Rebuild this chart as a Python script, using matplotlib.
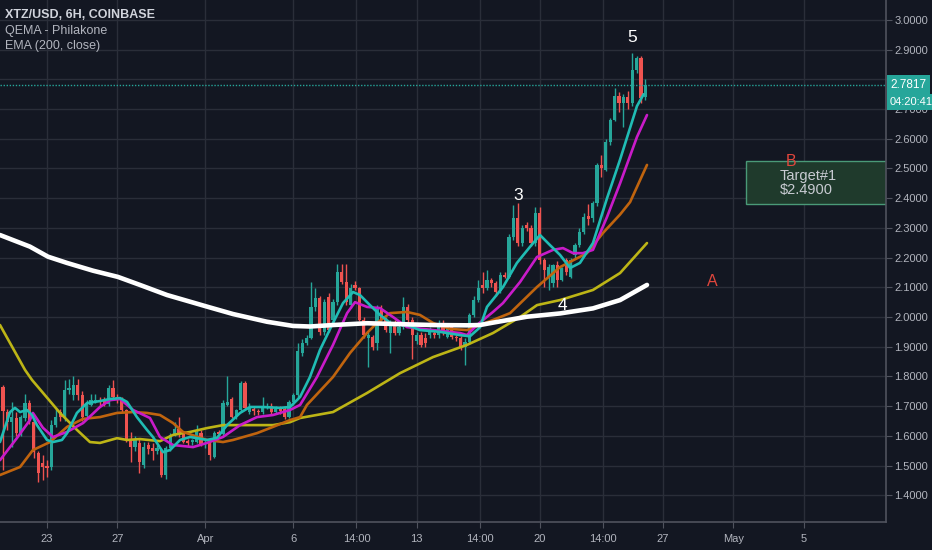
import matplotlib
matplotlib.use("Agg")
import matplotlib.pyplot as plt
import numpy as np
from matplotlib.patches import Rectangle

plt.rcParams['font.family'] = ['Liberation Sans', 'DejaVu Sans']

# ---------------- data ----------------
START_DAY = -2.5          # day offset of first 6H candle (0 = Mar 23)
CANDLE_STEP = 0.25        # 6 hours

opens = [1.764, 1.680, 1.646, 1.660, 1.609, 1.660, 1.710, 1.646, 1.542, 1.508,
         1.500, 1.495, 1.636, 1.680, 1.663, 1.754, 1.737, 1.771, 1.737, 1.668,
         1.703, 1.715, 1.722, 1.722, 1.708, 1.761, 1.731, 1.720, 1.687, 1.590,
         1.562, 1.576, 1.501, 1.570, 1.560, 1.550, 1.552, 1.468, 1.559, 1.603,
         1.623, 1.609, 1.582, 1.578, 1.580, 1.610, 1.572, 1.575, 1.530, 1.612,
         1.605, 1.705, 1.724, 1.663, 1.687, 1.778, 1.680, 1.690, 1.685, 1.680,
         1.693, 1.700, 1.680, 1.690, 1.690, 1.663, 1.713, 1.737, 1.879, 1.912,
         1.930, 2.035, 2.063, 1.951, 2.068, 1.990, 2.050, 2.150, 2.119, 2.040,
         2.108, 2.097, 1.990, 1.930, 1.934, 1.911, 2.024, 1.996, 1.945, 1.979,
         1.945, 1.967, 2.035, 1.990, 1.919, 1.939, 1.930, 1.939, 1.945, 1.939,
         1.979, 1.934, 1.967, 1.934, 1.928, 1.900, 1.917, 2.007, 2.057, 2.108,
         2.097, 2.125, 2.114, 2.088, 2.141, 2.135, 2.269, 2.333, 2.249, 2.310,
         2.300, 2.249, 2.350, 2.192, 2.135, 2.114, 2.175, 2.125, 2.192, 2.135,
         2.209, 2.243, 2.286, 2.340, 2.333, 2.384, 2.512, 2.495, 2.590, 2.663,
         2.744, 2.720, 2.740, 2.720, 2.830, 2.871, 2.740]
highs = [1.771, 1.690, 1.713, 1.680, 1.670, 1.740, 1.720, 1.660, 1.550, 1.535,
         1.520, 1.653, 1.690, 1.690, 1.788, 1.790, 1.800, 1.790, 1.750, 1.720,
         1.740, 1.740, 1.730, 1.730, 1.770, 1.788, 1.740, 1.730, 1.690, 1.612,
         1.600, 1.590, 1.580, 1.580, 1.575, 1.570, 1.555, 1.565, 1.610, 1.646,
         1.663, 1.615, 1.590, 1.590, 1.636, 1.620, 1.590, 1.590, 1.615, 1.620,
         1.720, 1.800, 1.730, 1.690, 1.785, 1.785, 1.710, 1.700, 1.690, 1.730,
         1.710, 1.710, 1.700, 1.700, 1.700, 1.720, 1.745, 1.912, 1.925, 1.940,
         2.119, 2.097, 2.070, 2.060, 2.080, 2.060, 2.180, 2.180, 2.180, 2.110,
         2.120, 2.100, 2.000, 1.950, 1.940, 2.040, 2.040, 2.000, 1.990, 1.990,
         1.975, 2.068, 2.045, 2.000, 1.950, 1.950, 1.945, 1.965, 1.955, 1.990,
         1.990, 1.975, 1.975, 1.940, 1.935, 1.930, 2.015, 2.070, 2.125, 2.150,
         2.158, 2.130, 2.120, 2.150, 2.150, 2.280, 2.377, 2.384, 2.310, 2.320,
         2.310, 2.370, 2.370, 2.200, 2.180, 2.180, 2.190, 2.170, 2.200, 2.200,
         2.250, 2.300, 2.350, 2.380, 2.390, 2.520, 2.545, 2.600, 2.670, 2.770,
         2.757, 2.750, 2.760, 2.888, 2.880, 2.880, 2.800]
lows = [1.485, 1.620, 1.562, 1.600, 1.600, 1.650, 1.640, 1.525, 1.444, 1.451,
        1.460, 1.485, 1.630, 1.650, 1.650, 1.740, 1.720, 1.720, 1.650, 1.660,
        1.700, 1.710, 1.700, 1.700, 1.700, 1.720, 1.710, 1.680, 1.580, 1.511,
        1.550, 1.475, 1.490, 1.540, 1.520, 1.540, 1.461, 1.455, 1.550, 1.600,
        1.596, 1.575, 1.565, 1.570, 1.575, 1.565, 1.560, 1.518, 1.525, 1.600,
        1.600, 1.700, 1.660, 1.655, 1.680, 1.690, 1.675, 1.670, 1.670, 1.675,
        1.690, 1.675, 1.675, 1.675, 1.655, 1.660, 1.705, 1.730, 1.870, 1.905,
        1.925, 2.020, 1.940, 1.940, 1.950, 1.980, 2.040, 2.110, 2.040, 2.030,
        2.090, 1.985, 1.930, 1.830, 1.890, 1.890, 1.985, 1.950, 1.880, 1.940,
        1.940, 1.960, 1.980, 1.860, 1.910, 1.900, 1.900, 1.930, 1.930, 1.930,
        1.940, 1.930, 1.925, 1.920, 1.890, 1.838, 1.910, 2.000, 2.050, 2.080,
        2.090, 2.100, 2.070, 2.080, 2.130, 2.130, 2.260, 2.240, 2.240, 2.290,
        2.240, 2.240, 2.180, 2.100, 2.090, 2.100, 2.100, 2.120, 2.140, 2.130,
        2.200, 2.235, 2.280, 2.310, 2.320, 2.375, 2.470, 2.490, 2.580, 2.660,
        2.690, 2.640, 2.700, 2.710, 2.820, 2.720, 2.730]
closes = [1.683, 1.646, 1.663, 1.609, 1.663, 1.710, 1.653, 1.545, 1.475, 1.495,
          1.492, 1.636, 1.663, 1.663, 1.754, 1.760, 1.771, 1.737, 1.663, 1.703,
          1.720, 1.722, 1.718, 1.708, 1.761, 1.731, 1.720, 1.687, 1.586, 1.562,
          1.586, 1.511, 1.562, 1.555, 1.548, 1.560, 1.468, 1.559, 1.603, 1.623,
          1.609, 1.579, 1.576, 1.585, 1.613, 1.569, 1.576, 1.535, 1.609, 1.605,
          1.710, 1.715, 1.663, 1.687, 1.778, 1.693, 1.697, 1.683, 1.680, 1.693,
          1.700, 1.680, 1.690, 1.685, 1.663, 1.713, 1.737, 1.885, 1.912, 1.930,
          2.035, 2.063, 1.951, 2.050, 1.956, 2.050, 2.150, 2.119, 2.050, 2.097,
          2.097, 1.990, 1.940, 1.940, 1.900, 2.029, 1.990, 1.956, 1.979, 1.945,
          1.967, 2.035, 1.990, 1.939, 1.939, 1.906, 1.911, 1.956, 1.939, 1.979,
          1.945, 1.967, 1.934, 1.928, 1.900, 1.917, 2.007, 2.057, 2.097, 2.097,
          2.125, 2.114, 2.084, 2.141, 2.135, 2.269, 2.333, 2.249, 2.300, 2.300,
          2.249, 2.350, 2.192, 2.158, 2.168, 2.175, 2.125, 2.165, 2.150, 2.192,
          2.243, 2.286, 2.337, 2.330, 2.384, 2.512, 2.500, 2.590, 2.663, 2.744,
          2.720, 2.740, 2.720, 2.830, 2.871, 2.737, 2.7817]

# Moving-average lines (day, price)
ema200_days = [-2.67, -0.97, 0.06, 1.14, 2.61, 4.03, 5.28, 6.82, 9.09, 10.57, 12.5,
               13.98, 14.94, 16.25, 18.18, 20.06, 21.93, 23.86, 24.60, 25.34, 27.27,
               29.15, 31.02, 32.56, 34.09]
ema200_vals = [2.276, 2.237, 2.203, 2.182, 2.156, 2.135, 2.108, 2.074, 2.035, 2.010, 1.984,
               1.970, 1.968, 1.973, 1.979, 1.976, 1.973, 1.972, 1.973, 1.981, 2.001,
               2.012, 2.029, 2.057, 2.108]

yellow_days = [-2.67, -1.25, -0.85, 0.74, 1.70, 2.44, 3.01, 3.98, 4.55, 5.28, 6.42, 7.16,
               8.13, 9.09, 10.0, 10.97, 12.84, 13.81, 14.38, 16.25, 18.18, 20.06, 21.93,
               23.86, 24.60, 25.34, 26.88, 27.84, 29.15, 31.02, 32.56, 34.09]
yellow_vals = [1.973, 1.822, 1.788, 1.677, 1.620, 1.579, 1.576, 1.592, 1.586, 1.589, 1.582,
               1.603, 1.613, 1.626, 1.636, 1.636, 1.636, 1.646, 1.660, 1.680, 1.744, 1.811,
               1.865, 1.906, 1.926, 1.946, 2.000, 2.040, 2.057, 2.091, 2.148, 2.249]

orange_days = [-2.67, -1.53, -0.80, 0.17, 1.14, 2.05, 3.01, 3.98, 4.89, 5.68, 6.42, 7.16,
               7.73, 9.09, 10.0, 10.57, 11.93, 12.84, 13.81, 14.38, 14.77, 16.25, 17.22,
               18.18, 18.75, 19.49, 20.45, 21.19, 21.93, 22.90, 23.86, 24.60, 25.34,
               26.31, 27.84, 29.15, 30.68, 31.59, 32.56, 33.13, 34.09]
orange_vals = [1.468, 1.495, 1.552, 1.579, 1.630, 1.657, 1.663, 1.677, 1.680, 1.677, 1.670,
               1.643, 1.613, 1.586, 1.579, 1.586, 1.609, 1.630, 1.653, 1.663, 1.704, 1.798,
               1.879, 1.946, 1.980, 2.013, 2.017, 2.007, 1.980, 1.960, 1.956, 1.973, 1.990,
               2.013, 2.101, 2.168, 2.215, 2.283, 2.345, 2.387, 2.512]

magenta_days = [-2.67, -1.70, -0.97, -0.80, -0.23, 0.34, 1.14, 2.05, 3.01, 3.58, 4.15,
                4.89, 5.85, 6.42, 7.16, 8.30, 9.09, 10.0, 10.97, 11.93, 12.84, 13.81,
                14.38, 15.34, 16.25, 17.05, 17.5, 18.18, 18.92, 19.66, 20.45, 21.93,
                23.47, 23.86, 24.43, 25.34, 25.91, 26.88, 27.84, 28.75, 29.32, 29.89,
                30.45, 31.02, 31.82, 32.56, 33.52, 34.09]
magenta_vals = [1.518, 1.593, 1.653, 1.677, 1.627, 1.596, 1.613, 1.643, 1.697, 1.720, 1.724,
                1.687, 1.660, 1.596, 1.569, 1.562, 1.576, 1.596, 1.636, 1.663, 1.670, 1.687,
                1.704, 1.798, 1.906, 2.013, 2.050, 2.034, 2.030, 2.000, 1.966, 1.956,
                1.946, 1.939, 1.973, 2.017, 2.047, 2.118, 2.202, 2.226, 2.232, 2.215,
                2.215, 2.226, 2.337, 2.450, 2.606, 2.680]

cyan_days = [-2.67, -2.10, -1.82, -1.53, -1.14, -0.85, -0.57, 0.0, 0.34, 0.85, 1.14, 1.70,
             2.27, 3.01, 3.58, 4.15, 4.55, 5.11, 5.68, 6.02, 6.59, 6.99, 7.56, 8.13, 9.09,
             9.66, 10.23, 10.97, 11.53, 12.27, 13.24, 13.81, 14.20, 14.38, 14.94, 15.51,
             16.25, 16.82, 17.39, 17.78, 18.35, 18.92, 19.66, 20.45, 21.19, 22.33, 23.47,
             24.03, 24.60, 25.0, 25.91, 26.70, 27.44, 28.01, 28.58, 29.15, 29.72, 30.28,
             31.02, 31.82, 32.56, 33.52, 33.90]
cyan_vals = [1.579, 1.680, 1.694, 1.680, 1.687, 1.670, 1.636, 1.586, 1.579, 1.586, 1.609,
             1.677, 1.710, 1.717, 1.724, 1.727, 1.714, 1.663, 1.620, 1.596, 1.545, 1.552,
             1.586, 1.596, 1.586, 1.593, 1.636, 1.677, 1.697, 1.697, 1.694, 1.697, 1.720,
             1.731, 1.798, 1.889, 1.980, 2.047, 2.084, 2.074, 2.040, 2.007, 1.973, 1.973,
             1.956, 1.950, 1.939, 1.935, 1.965, 2.034, 2.101, 2.182, 2.236, 2.276, 2.242,
             2.209, 2.165, 2.182, 2.249, 2.400, 2.530, 2.710, 2.750]

last_price = 2.7817
countdown = "04:20:41"

price_ticks = [1.4, 1.5, 1.6, 1.7, 1.8, 1.9, 2.0, 2.1, 2.2, 2.3, 2.4, 2.5, 2.6, 2.7, 2.8, 2.9, 3.0]
time_tick_days = [0, 4, 9, 14, 17.58, 21, 24.58, 28, 31.58, 35, 39, 43]
time_tick_labels = ["23", "27", "Apr", "6", "14:00", "13", "14:00", "20", "14:00", "27", "May", "5"]

wave_labels = ["3", "4", "5"]
wave_days = [26.76, 29.3, 33.24]
wave_prices = [2.41, 2.04, 2.94]

abc_labels = ["A", "B", "C"]
abc_days = [37.78, 42.27, 47.98]
abc_prices = [2.121, 2.522, 1.68]

target_box_days = [39.72, 48.5]
target_box_prices = [2.380, 2.525]
target_text = "Target#1\n$2.4900"
target_text_pos = (41.65, 2.451)

# ---------------- style ----------------
BG = '#131722'
GRID = '#2a2e39'
AXIS = '#50535e'
TXT = '#b2b5be'
UP = '#26a69a'
DOWN = '#ef5350'

fig = plt.figure(figsize=(9.32, 5.5), dpi=100, facecolor=BG)
ax = fig.add_axes([0, 28 / 550, 886 / 932, 522 / 550], facecolor=BG)
ax.set_xlim(-2.67, 47.67)
ax.set_ylim(1.3098, 3.0673)

for p in price_ticks:
    ax.axhline(p, color=GRID, lw=1, zorder=0)
for d in time_tick_days:
    ax.axvline(d, color=GRID, lw=1, zorder=0)

# candles
o = np.array(opens); h = np.array(highs); l = np.array(lows); c = np.array(closes)
t = START_DAY + CANDLE_STEP * np.arange(len(c))
cols = np.where(c >= o, UP, DOWN)
ax.vlines(t, l, h, colors=cols, lw=1, zorder=2)
ax.bar(t, np.maximum(np.abs(c - o), 0.004), bottom=np.minimum(o, c), width=0.19,
       color=cols, linewidth=0, zorder=2.1)

# moving averages
ax.plot(yellow_days, yellow_vals, color='#bdb516', lw=1.9, zorder=3, solid_capstyle='round')
ax.plot(orange_days, orange_vals, color='#c0640e', lw=1.9, zorder=3.1, solid_capstyle='round')
ax.plot(magenta_days, magenta_vals, color='#c91bc9', lw=1.9, zorder=3.2, solid_capstyle='round')
ax.plot(cyan_days, cyan_vals, color='#20bcb4', lw=1.9, zorder=3.3, solid_capstyle='round')
ax.plot(ema200_days, ema200_vals, color='#ffffff', lw=3.3, zorder=3.5, solid_capstyle='round')

# last price dotted line
ax.axhline(last_price, color=UP, lw=1, ls=(0, (1, 1.2)), zorder=4)

# target box
ax.add_patch(Rectangle((target_box_days[0], target_box_prices[0]),
                       target_box_days[1] - target_box_days[0],
                       target_box_prices[1] - target_box_prices[0],
                       facecolor='#1f3a2c', edgecolor='#4a9a78', lw=1, zorder=1))
ax.text(target_text_pos[0], target_text_pos[1], target_text, color='#c8cbd2', fontsize=10.5,
        ha='left', va='center', linespacing=1.0, zorder=5)

for s, d, p in zip(wave_labels, wave_days, wave_prices):
    ax.text(d, p, s, color='white', fontsize=12.5, ha='center', va='center', zorder=6)
for s, d, p in zip(abc_labels, abc_days, abc_prices):
    ax.text(d, p, s, color='#e0463c', fontsize=11.5, ha='center', va='center', zorder=6,
            clip_on=True)

# axes
for side in ['top', 'left']:
    ax.spines[side].set_visible(False)
for side in ['right', 'bottom']:
    ax.spines[side].set_color(AXIS)
    ax.spines[side].set_linewidth(1.2)
ax.yaxis.tick_right()
ax.set_yticks(price_ticks)
ax.set_yticklabels([f"{v:.4f}" for v in price_ticks])
ax.set_xticks(time_tick_days)
ax.set_xticklabels(time_tick_labels)
ax.tick_params(axis='y', colors=TXT, labelsize=8, length=4, color=AXIS, pad=2)
ax.tick_params(axis='x', colors=TXT, labelsize=8, length=4, color=AXIS, pad=5)

ytr = ax.get_yaxis_transform()
ax.annotate(f"{last_price:.4f}", xy=(1, last_price), xycoords=ytr, xytext=(3, 0),
            textcoords='offset points', ha='left', va='center', color='white', fontsize=8.5,
            bbox=dict(boxstyle='square,pad=0.3', fc=UP, ec='none'), annotation_clip=False,
            zorder=10)
ax.annotate(countdown, xy=(1, last_price - 0.0575), xycoords=ytr, xytext=(2.5, 0),
            textcoords='offset points', ha='left', va='center', color='white', fontsize=8,
            bbox=dict(boxstyle='square,pad=0.25', fc=UP, ec='none'), annotation_clip=False,
            zorder=10)

# legend texts
fig.text(5 / 932, 1 - 15 / 550, "XTZ/USD, 6H, COINBASE", color='#d1d4dc', fontsize=9,
         fontweight='bold', va='center', ha='left')
fig.text(5 / 932, 1 - 31 / 550, "QEMA - Philakone", color=TXT, fontsize=9,
         va='center', ha='left')
fig.text(5 / 932, 1 - 46 / 550, "EMA (200, close)", color=TXT, fontsize=9,
         va='center', ha='left')

fig.savefig("out.png", dpi=100, facecolor=BG)
